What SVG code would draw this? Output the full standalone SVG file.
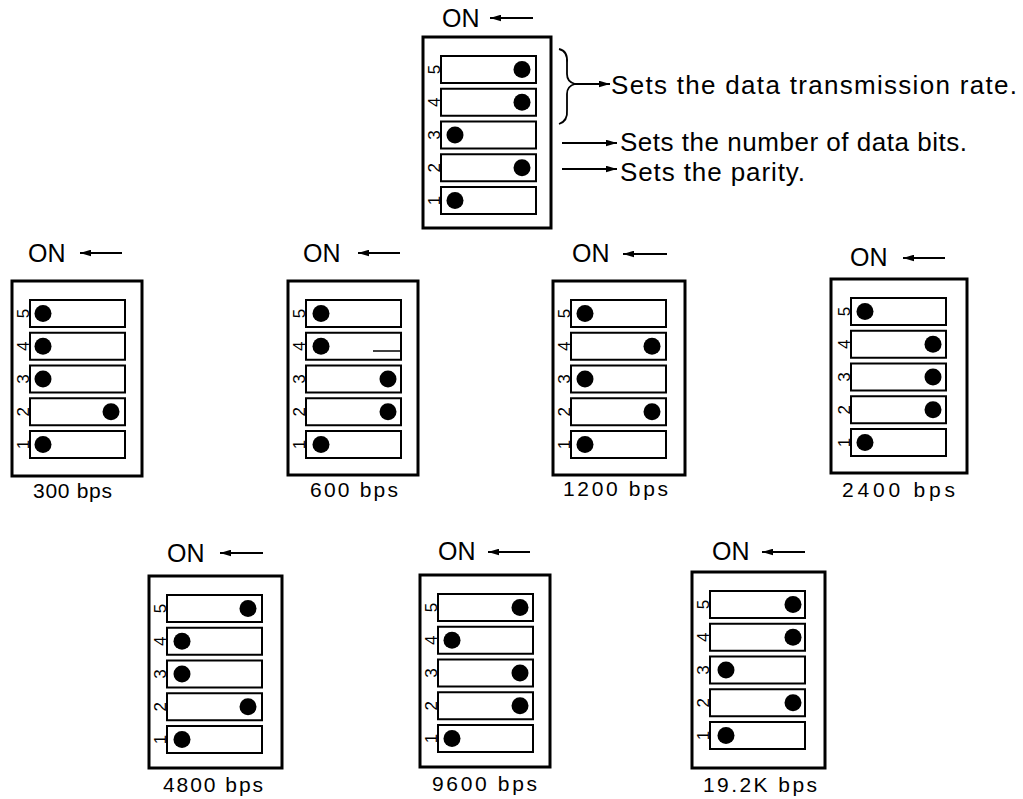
<svg xmlns="http://www.w3.org/2000/svg" width="1023" height="799" viewBox="0 0 1023 799">
<style>
.box{fill:none;stroke:#000;stroke-width:3}
.sw{fill:#fff;stroke:#000;stroke-width:2}
.dot{fill:#000}
.dg{font-family:"Liberation Sans",Arial,sans-serif;font-size:17px;fill:#000}
.on{font-family:"Liberation Sans",Arial,sans-serif;font-size:25px;fill:#000}
.lbl{font-family:"Liberation Sans",Arial,sans-serif;font-size:21px;fill:#000}
.desc{font-family:"Liberation Sans",Arial,sans-serif;font-size:26px;fill:#000}
.ar{fill:none;stroke:#000;stroke-width:1.8}
</style>
<defs>
<marker id="ah" viewBox="0 0 10 6" refX="10" refY="3" markerWidth="11" markerHeight="7" markerUnits="userSpaceOnUse" orient="auto">
<path d="M0,0 L10,3 L0,6 z" fill="#000"/>
</marker>
<g id="sws">
<rect class="sw" x="18" y="19" width="95" height="27"/>
<rect class="sw" x="18" y="51.75" width="95" height="27"/>
<rect class="sw" x="18" y="84.5" width="95" height="27"/>
<rect class="sw" x="18" y="117.25" width="95" height="27"/>
<rect class="sw" x="18" y="150" width="95" height="27"/>
<text class="dg" transform="translate(17,32.5) rotate(-90)" text-anchor="middle">5</text>
<text class="dg" transform="translate(17,65.25) rotate(-90)" text-anchor="middle">4</text>
<text class="dg" transform="translate(17,98) rotate(-90)" text-anchor="middle">3</text>
<text class="dg" transform="translate(17,130.75) rotate(-90)" text-anchor="middle">2</text>
<text class="dg" transform="translate(17,163.5) rotate(-90)" text-anchor="middle">1</text>
</g>
</defs>

<g id="node-top" transform="translate(423,37)">
<rect class="box" x="0" y="0" width="128" height="191"/>
<use href="#sws"/>
<circle class="dot" cx="99" cy="32.5" r="8.5"/>
<circle class="dot" cx="99" cy="65.25" r="8.5"/>
<circle class="dot" cx="32" cy="98" r="8.5"/>
<circle class="dot" cx="99" cy="130.75" r="8.5"/>
<circle class="dot" cx="32" cy="163.5" r="8.5"/>
<text class="on" x="19" y="-10">ON</text>
<line class="ar" x1="110" y1="-19" x2="67" y2="-19" marker-end="url(#ah)"/>
</g>

<g id="node-300" transform="translate(12,281)">
<rect class="box" x="0" y="0" width="130" height="195"/>
<use href="#sws"/>
<circle class="dot" cx="31" cy="32.5" r="8.5"/>
<circle class="dot" cx="31" cy="65.25" r="8.5"/>
<circle class="dot" cx="31" cy="98" r="8.5"/>
<circle class="dot" cx="99" cy="130.75" r="8.5"/>
<circle class="dot" cx="31" cy="163.5" r="8.5"/>
<text class="on" x="16" y="-19">ON</text>
<line class="ar" x1="110" y1="-28" x2="68" y2="-28" marker-end="url(#ah)"/>
<text class="lbl" x="21" y="217" textLength="79" lengthAdjust="spacing">300 bps</text>
</g>

<g id="node-600" transform="translate(288,281)">
<rect class="box" x="0" y="0" width="130" height="194"/>
<use href="#sws"/>
<circle class="dot" cx="33" cy="32.5" r="8.5"/>
<circle class="dot" cx="33" cy="65.25" r="8.5"/>
<circle class="dot" cx="100" cy="98" r="8.5"/>
<circle class="dot" cx="100" cy="130.75" r="8.5"/>
<circle class="dot" cx="33" cy="163.5" r="8.5"/>
<line x1="85" y1="70" x2="112" y2="70" stroke="#000" stroke-width="1.5"/>
<text class="on" x="15" y="-19">ON</text>
<line class="ar" x1="112" y1="-28" x2="70" y2="-28" marker-end="url(#ah)"/>
<text class="lbl" x="22" y="216" textLength="88" lengthAdjust="spacing">600 bps</text>
</g>

<g id="node-1200" transform="translate(553,281)">
<rect class="box" x="0" y="0" width="132" height="194"/>
<use href="#sws"/>
<circle class="dot" cx="32" cy="32.5" r="8.5"/>
<circle class="dot" cx="99" cy="65.25" r="8.5"/>
<circle class="dot" cx="32" cy="98" r="8.5"/>
<circle class="dot" cx="99" cy="130.75" r="8.5"/>
<circle class="dot" cx="32" cy="163.5" r="8.5"/>
<text class="on" x="19" y="-19">ON</text>
<line class="ar" x1="114" y1="-27" x2="70" y2="-27" marker-end="url(#ah)"/>
<text class="lbl" x="10" y="215" textLength="105" lengthAdjust="spacing">1200 bps</text>
</g>

<g id="node-2400" transform="translate(831,279)">
<rect class="box" x="0" y="0" width="136" height="194"/>
<use href="#sws" transform="translate(2,0)"/>
<circle class="dot" cx="34" cy="32.5" r="8.5"/>
<circle class="dot" cx="102" cy="65.25" r="8.5"/>
<circle class="dot" cx="102" cy="98" r="8.5"/>
<circle class="dot" cx="102" cy="130.75" r="8.5"/>
<circle class="dot" cx="34" cy="163.5" r="8.5"/>
<text class="on" x="19" y="-13">ON</text>
<line class="ar" x1="114" y1="-21" x2="72" y2="-21" marker-end="url(#ah)"/>
<text class="lbl" x="11" y="218" textLength="113" lengthAdjust="spacing">2400 bps</text>
</g>

<g id="node-4800" transform="translate(149,576)">
<rect class="box" x="0" y="0" width="133" height="192"/>
<use href="#sws"/>
<circle class="dot" cx="99" cy="32.5" r="8.5"/>
<circle class="dot" cx="33" cy="65.25" r="8.5"/>
<circle class="dot" cx="33" cy="98" r="8.5"/>
<circle class="dot" cx="99" cy="130.75" r="8.5"/>
<circle class="dot" cx="33" cy="163.5" r="8.5"/>
<text class="on" x="18" y="-14">ON</text>
<line class="ar" x1="114" y1="-23" x2="71" y2="-23" marker-end="url(#ah)"/>
<text class="lbl" x="14" y="216" textLength="100" lengthAdjust="spacing">4800 bps</text>
</g>

<g id="node-9600" transform="translate(420,575)">
<rect class="box" x="0" y="0" width="130" height="192"/>
<use href="#sws"/>
<circle class="dot" cx="100" cy="32.5" r="8.5"/>
<circle class="dot" cx="32" cy="65.25" r="8.5"/>
<circle class="dot" cx="100" cy="98" r="8.5"/>
<circle class="dot" cx="100" cy="130.75" r="8.5"/>
<circle class="dot" cx="32" cy="163.5" r="8.5"/>
<text class="on" x="18" y="-15">ON</text>
<line class="ar" x1="110" y1="-23" x2="68" y2="-23" marker-end="url(#ah)"/>
<text class="lbl" x="12" y="216" textLength="105" lengthAdjust="spacing">9600 bps</text>
</g>

<g id="node-19200" transform="translate(692,572)">
<rect class="box" x="0" y="0" width="133" height="196"/>
<use href="#sws"/>
<circle class="dot" cx="101" cy="32.5" r="8.5"/>
<circle class="dot" cx="101" cy="65.25" r="8.5"/>
<circle class="dot" cx="34" cy="98" r="8.5"/>
<circle class="dot" cx="101" cy="130.75" r="8.5"/>
<circle class="dot" cx="34" cy="163.5" r="8.5"/>
<text class="on" x="20" y="-12">ON</text>
<line class="ar" x1="113" y1="-20" x2="70" y2="-20" marker-end="url(#ah)"/>
<text class="lbl" x="11" y="220" textLength="114" lengthAdjust="spacing">19.2K bps</text>
</g>

<g id="connectors">
<path class="ar" d="M559,49 Q568,51 567,63 L567,74 Q567,82 575,84 Q567,86 567,94 L567,110 Q568,121 559,124"/>
<line class="ar" x1="575" y1="84" x2="610" y2="84" marker-end="url(#ah)"/>
<line class="ar" x1="562" y1="143" x2="617" y2="143" marker-end="url(#ah)"/>
<line class="ar" x1="562" y1="169" x2="617" y2="169" marker-end="url(#ah)"/>
</g>

<g id="descriptions">
<text class="desc" x="611" y="94" textLength="406" lengthAdjust="spacing">Sets the data transmission rate.</text>
<text class="desc" x="620" y="151" textLength="347" lengthAdjust="spacing">Sets the number of data bits.</text>
<text class="desc" x="620" y="181" textLength="185" lengthAdjust="spacing">Sets the parity.</text>
</g>
</svg>
